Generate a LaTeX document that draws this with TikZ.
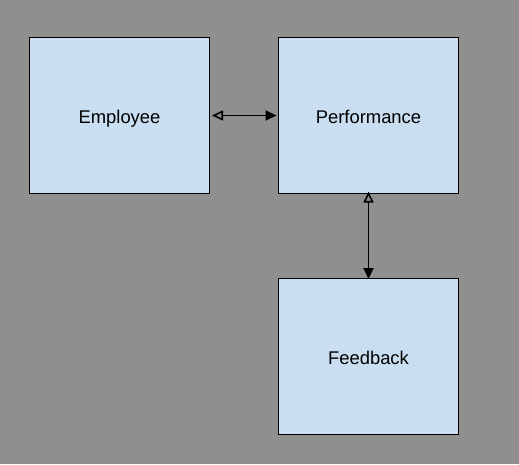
\documentclass[tikz,border=0pt]{standalone}
\usepackage{fontspec}
\setmainfont{Liberation Sans}
\usetikzlibrary{arrows.meta}
\definecolor{bg}{RGB}{143,143,143}
\definecolor{boxfill}{RGB}{201,223,241}
\begin{document}
\begin{tikzpicture}[x=1pt,y=-1pt,
  box/.style={draw=black,fill=boxfill,line width=1pt,minimum width=180pt,minimum height=156pt,inner sep=0pt,text height=20pt,text depth=4pt,font=\fontsize{18.4}{22}\selectfont},
  conn/.style={line width=1.8pt,{Triangle[open,length=11pt,width=10pt,line width=1.6pt]}-{Triangle[length=11pt,width=10pt]}}]
\fill[bg] (0,0) rectangle (519,464);
\useasboundingbox (0,0) rectangle (519,464);
\node[box] (emp) at (119.5,115.5) {Employee};
\node[box] (perf) at (368.5,115.5) {Performance};
\node[box] (fb) at (368.5,356.5) {Feedback};
\draw[conn] ([xshift=2pt]emp.east) -- ([xshift=-1.5pt]perf.west);
\draw[conn] ([yshift=2.5pt]perf.south) -- ([yshift=-1pt]fb.north);
\end{tikzpicture}
\end{document}
